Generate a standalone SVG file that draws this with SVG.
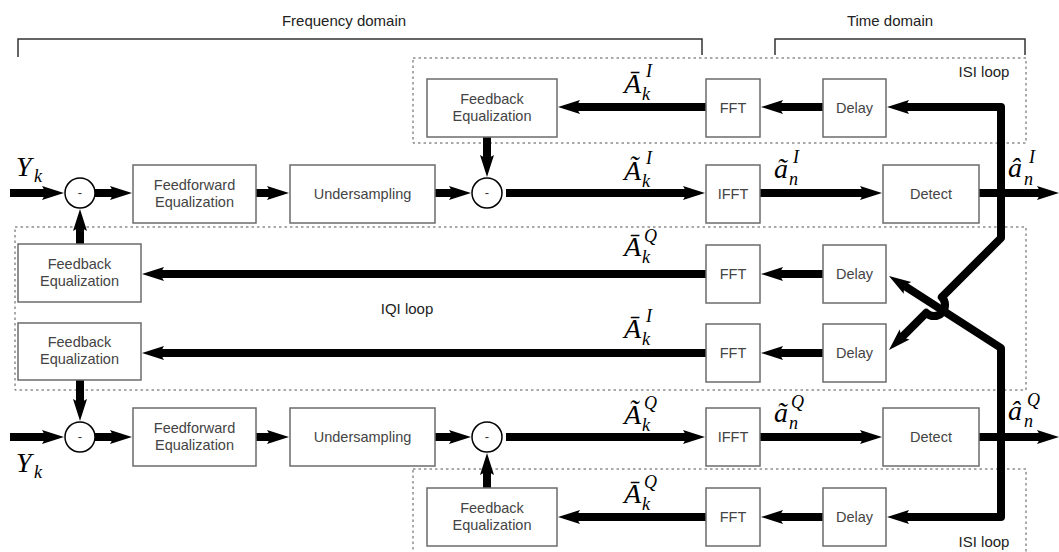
<svg xmlns="http://www.w3.org/2000/svg" width="1059" height="552" viewBox="0 0 1059 552">
<style>
.box{fill:#fff;stroke:#6b6b6b;stroke-width:1.5}
.bt{font-family:"Liberation Sans",Arial,sans-serif;font-size:14.5px;fill:#444;text-anchor:middle}
.lt{font-family:"Liberation Sans",Arial,sans-serif;font-size:15px;fill:#222;text-anchor:middle}
.dash{fill:none;stroke:#555;stroke-width:1;stroke-dasharray:2.5,3}
.brk{fill:none;stroke:#333;stroke-width:1.5}
.cir{fill:#fff;stroke:#000;stroke-width:1.5}
.w{fill:none;stroke:#000;stroke-width:8;stroke-linejoin:round}
.a{marker-end:url(#ah)}
.m{font-family:"Liberation Serif","Times New Roman",serif;font-style:italic;font-size:28px;fill:#000}
.ms{font-family:"Liberation Serif","Times New Roman",serif;font-style:italic;font-size:18px;fill:#000}
.minus{font-family:"Liberation Sans",Arial,sans-serif;font-size:13px;fill:#333;text-anchor:middle}
</style>
<defs>
<marker id="ah" markerUnits="userSpaceOnUse" markerWidth="24" markerHeight="16" refX="4" refY="8" orient="auto" viewBox="0 0 24 16"><path d="M0,1 L22,8 L0,15 L4,8 Z" fill="#000"/></marker>
</defs>

<g id="brackets">
<path class="brk" d="M18,57 V39 H702 V55"/>
<text class="lt" x="344" y="26">Frequency domain</text>
<path class="brk" d="M775,55 V39 H1025 V55"/>
<text class="lt" x="890" y="26">Time domain</text>
</g>

<g id="loops">
<rect class="dash" x="413" y="58" width="613" height="85"/>
<text class="lt" x="984" y="77">ISI loop</text>
<rect class="dash" x="15" y="227" width="1011" height="163"/>
<text class="lt" x="407" y="314">IQI loop</text>
<rect class="dash" x="413" y="469" width="613" height="90"/>
<text class="lt" x="984" y="547">ISI loop</text>
</g>

<g id="connectors">
<path class="w a" d="M10,193 H46"/>
<path class="w a" d="M95,193 H114"/>
<path class="w a" d="M256,193 H271"/>
<path class="w a" d="M435,193 H453"/>
<path class="w a" d="M506,193 H687"/>
<path class="w a" d="M760,193 H864"/>
<path class="w a" d="M979,193 H1041"/>
<path class="w a" d="M487,137 V159"/>
<path class="w a" d="M706,107 H576"/>
<path class="w a" d="M823,107 H779"/>
<path class="w a" d="M1001,193 V107 H905"/>
<path class="w a" d="M1001,193 V238 L941.8,297.2 A11,11 0 0 1 926.2,312.8 L901.7,337.3"/>
<path class="w a" d="M80,244 V227"/>
<path class="w a" d="M706,274 H160"/>
<path class="w a" d="M823,274 H779"/>
<path class="w a" d="M706,353 H160"/>
<path class="w a" d="M823,353 H779"/>
<path class="w a" d="M80,380 V403"/>
<path class="w a" d="M10,437 H46"/>
<path class="w a" d="M95,437 H114"/>
<path class="w a" d="M256,437 H271"/>
<path class="w a" d="M435,437 H453"/>
<path class="w a" d="M506,437 H687"/>
<path class="w a" d="M760,437 H864"/>
<path class="w a" d="M979,437 H1041"/>
<path class="w a" d="M487,488 V471"/>
<path class="w a" d="M706,517 H576"/>
<path class="w a" d="M823,517 H779"/>
<path class="w a" d="M1001,437 V517 H905"/>
<path class="w a" d="M1001,437 V348 L904.1,285.7"/>
</g>

<g id="fb-isi-top"><rect class="box" x="427" y="79" width="130" height="58"/><text class="bt" x="492" y="104">Feedback</text><text class="bt" x="492" y="121">Equalization</text></g>
<g id="fft-top"><rect class="box" x="706" y="79" width="54" height="58"/><text class="bt" x="733" y="113">FFT</text></g>
<g id="delay-top"><rect class="box" x="823" y="79" width="63" height="58"/><text class="bt" x="854.5" y="113">Delay</text></g>

<g id="sum1-i"><circle class="cir" cx="80" cy="193" r="15"/><text class="minus" x="80" y="197">-</text></g>
<g id="ff-i"><rect class="box" x="133" y="165" width="123" height="58"/><text class="bt" x="194.5" y="190">Feedforward</text><text class="bt" x="194.5" y="207">Equalization</text></g>
<g id="us-i"><rect class="box" x="290" y="165" width="145" height="58"/><text class="bt" x="362.5" y="199">Undersampling</text></g>
<g id="sum2-i"><circle class="cir" cx="487" cy="193" r="15"/><text class="minus" x="487" y="197">-</text></g>
<g id="ifft-i"><rect class="box" x="706" y="165" width="54" height="58"/><text class="bt" x="733" y="199">IFFT</text></g>
<g id="detect-i"><rect class="box" x="883" y="165" width="96" height="58"/><text class="bt" x="931" y="199">Detect</text></g>

<g id="fb-iqi-q"><rect class="box" x="18" y="244" width="123" height="58"/><text class="bt" x="79.5" y="269">Feedback</text><text class="bt" x="79.5" y="286">Equalization</text></g>
<g id="fft-q-mid"><rect class="box" x="706" y="245" width="54" height="58"/><text class="bt" x="733" y="279">FFT</text></g>
<g id="delay-q-mid"><rect class="box" x="823" y="245" width="63" height="58"/><text class="bt" x="854.5" y="279">Delay</text></g>

<g id="fb-iqi-i"><rect class="box" x="18" y="323" width="123" height="57"/><text class="bt" x="79.5" y="347">Feedback</text><text class="bt" x="79.5" y="364">Equalization</text></g>
<g id="fft-i-mid"><rect class="box" x="706" y="324" width="54" height="58"/><text class="bt" x="733" y="358">FFT</text></g>
<g id="delay-i-mid"><rect class="box" x="823" y="324" width="63" height="58"/><text class="bt" x="854.5" y="358">Delay</text></g>

<g id="sum1-q"><circle class="cir" cx="80" cy="437" r="15"/><text class="minus" x="80" y="441">-</text></g>
<g id="ff-q"><rect class="box" x="133" y="408" width="123" height="58"/><text class="bt" x="194.5" y="433">Feedforward</text><text class="bt" x="194.5" y="450">Equalization</text></g>
<g id="us-q"><rect class="box" x="290" y="408" width="145" height="58"/><text class="bt" x="362.5" y="442">Undersampling</text></g>
<g id="sum2-q"><circle class="cir" cx="487" cy="437" r="15"/><text class="minus" x="487" y="441">-</text></g>
<g id="ifft-q"><rect class="box" x="706" y="408" width="54" height="58"/><text class="bt" x="733" y="442">IFFT</text></g>
<g id="detect-q"><rect class="box" x="883" y="408" width="96" height="58"/><text class="bt" x="931" y="442">Detect</text></g>

<g id="fb-isi-bot"><rect class="box" x="427" y="488" width="130" height="58"/><text class="bt" x="492" y="513">Feedback</text><text class="bt" x="492" y="530">Equalization</text></g>
<g id="fft-bot"><rect class="box" x="706" y="488" width="54" height="58"/><text class="bt" x="733" y="522">FFT</text></g>
<g id="delay-bot"><rect class="box" x="823" y="488" width="63" height="58"/><text class="bt" x="854.5" y="522">Delay</text></g>

<g id="labels">
<text class="m" x="16" y="176">Y</text><text class="ms" x="34" y="182">k</text>
<text class="m" x="16" y="472">Y</text><text class="ms" x="34" y="478">k</text>
<text class="m" x="624" y="93">Ā</text><text class="ms" x="642" y="100">k</text><text class="ms" x="646" y="77">I</text>
<text class="m" x="624" y="180">Ã</text><text class="ms" x="642" y="187">k</text><text class="ms" x="646" y="164">I</text>
<text class="m" x="774" y="178">ã</text><text class="ms" x="789" y="185">n</text><text class="ms" x="793" y="163">I</text>
<text class="m" x="1008" y="177">â</text><text class="ms" x="1024" y="185">n</text><text class="ms" x="1029" y="163">I</text>
<text class="m" x="624" y="256">Ā</text><text class="ms" x="642" y="263">k</text><text class="ms" x="644" y="242">Q</text>
<text class="m" x="624" y="338">Ā</text><text class="ms" x="642" y="345">k</text><text class="ms" x="646" y="322">I</text>
<text class="m" x="624" y="424">Ã</text><text class="ms" x="642" y="431">k</text><text class="ms" x="644" y="409">Q</text>
<text class="m" x="774" y="422">ã</text><text class="ms" x="789" y="429">n</text><text class="ms" x="791" y="408">Q</text>
<text class="m" x="1008" y="420">â</text><text class="ms" x="1024" y="427">n</text><text class="ms" x="1027" y="406">Q</text>
<text class="m" x="624" y="503">Ā</text><text class="ms" x="642" y="510">k</text><text class="ms" x="644" y="488">Q</text>
</g>
</svg>
